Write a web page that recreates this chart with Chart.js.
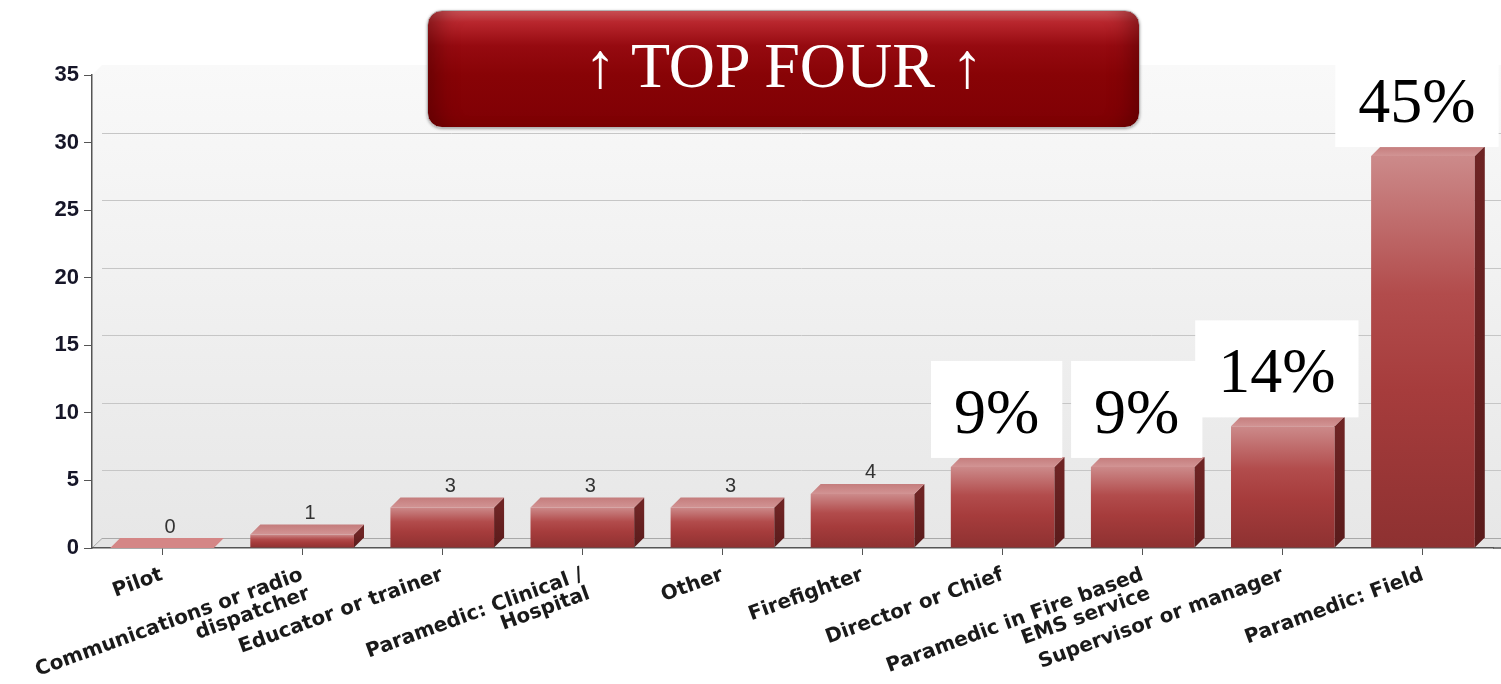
<!DOCTYPE html>
<html>
<head>
<meta charset="utf-8">
<title>Role breakdown</title>
<script src="https://cdn.jsdelivr.net/npm/chart.js@4.4.1/dist/chart.umd.min.js"></script>
<style>
    html, body { margin: 0; padding: 0; background: #fff; }
    #wrap { position: relative; width: 1501px; height: 684px; overflow: hidden; }
    #banner {
        position: absolute;
        left: 427px; top: 10px;
        width: 711px; height: 116px;
        border-radius: 15px;
        border: 1px solid #b5b5b5;
        background: linear-gradient(to bottom, #d3555a 0%, #b8262d 10%, #960a10 30%, #880306 55%, #7f0004 100%);
        box-shadow: 0 1px 3px rgba(0,0,0,0.35),
                    inset 22px 0 22px -14px rgba(60,0,0,0.45),
                    inset -22px 0 22px -14px rgba(60,0,0,0.45);
        color: #fff;
        font-family: "Liberation Serif", "Times New Roman", serif;
        font-size: 64px;
        line-height: 109px;
        text-align: center;
        white-space: pre;
    }
</style>
</head>
<body>
<div id="wrap">
    <canvas id="roleChart" width="1501" height="684"></canvas>
    <div id="banner">↑ TOP FOUR ↑</div>
</div>
<script>
// --- data ---
const categories = [
    ['Pilot'],
    ['Communications or radio', 'dispatcher'],
    ['Educator or trainer'],
    ['Paramedic: Clinical /', 'Hospital'],
    ['Other'],
    ['Firefighter'],
    ['Director or Chief'],
    ['Paramedic in Fire based', 'EMS service'],
    ['Supervisor or manager'],
    ['Paramedic: Field']
];
const responses = [0, 1, 3, 3, 3, 4, 6, 6, 9, 29];
const yTicks = [0, 5, 10, 15, 20, 25, 30, 35];
const topCount = 4;

const DEPTH = 10;
const total = responses.reduce((a, b) => a + b, 0);

// indices of the biggest bars, they get a percentage box
const topIdx = responses
    .map((v, i) => ({ v, i }))
    .sort((a, b) => b.v - a.v)
    .slice(0, topCount)
    .map(o => o.i);

function barGradient(context) {
    const chart = context.chart;
    const y = chart.scales.y;
    if (!chart.chartArea || !y || context.type !== 'data') return '#a83c3c';
    const top = y.getPixelForValue(context.raw);
    const base = y.getPixelForValue(0);
    if (base - top < 1) return '#c98383';
    const g = chart.ctx.createLinearGradient(0, top, 0, base);
    g.addColorStop(0, '#cc8a8a');
    g.addColorStop(0.35, '#b24c4c');
    g.addColorStop(0.6, '#a63c3c');
    g.addColorStop(1, '#8e3131');
    return g;
}

// back wall, floor and shifted grid lines
const wallPlugin = {
    id: 'wall',
    beforeDraw(chart) {
        const { ctx, chartArea: a, scales: { y } } = chart;
        const right = chart.width;
        ctx.save();
        const g = ctx.createLinearGradient(0, a.top - DEPTH, 0, a.bottom - DEPTH);
        g.addColorStop(0, '#f9f9f9');
        g.addColorStop(1, '#e7e7e7');
        ctx.fillStyle = g;
        ctx.beginPath();
        ctx.moveTo(a.left, a.top);
        ctx.lineTo(a.left + DEPTH, a.top - DEPTH);
        ctx.lineTo(right, a.top - DEPTH);
        ctx.lineTo(right, a.bottom - DEPTH);
        ctx.lineTo(a.left, a.bottom);
        ctx.closePath();
        ctx.fill();

        // floor
        ctx.fillStyle = '#e4e4e4';
        ctx.beginPath();
        ctx.moveTo(a.left, a.bottom);
        ctx.lineTo(a.left + DEPTH, a.bottom - DEPTH);
        ctx.lineTo(right, a.bottom - DEPTH);
        ctx.lineTo(right, a.bottom);
        ctx.closePath();
        ctx.fill();

        ctx.lineWidth = 1;
        ctx.strokeStyle = '#c6c6c6';
        y.ticks.forEach(t => {
            if (t.value === y.min || t.value === y.max) return;
            const py = Math.round(y.getPixelForValue(t.value) - DEPTH) + 0.5;
            ctx.beginPath();
            ctx.moveTo(a.left + DEPTH, py);
            ctx.lineTo(right, py);
            ctx.stroke();
        });

        // floor edges
        ctx.strokeStyle = '#a9a9a9';
        const fy = Math.round(a.bottom - DEPTH) + 0.5;
        ctx.beginPath();
        ctx.moveTo(a.left, a.bottom);
        ctx.lineTo(a.left + DEPTH, fy);
        ctx.lineTo(right, fy);
        ctx.stroke();
        ctx.restore();
    },
    afterDraw(chart) {
        // x axis line runs on to the right edge
        const { ctx, chartArea: a } = chart;
        ctx.save();
        ctx.strokeStyle = '#555';
        ctx.lineWidth = 1.5;
        ctx.beginPath();
        ctx.moveTo(a.right, a.bottom);
        ctx.lineTo(chart.width, a.bottom);
        ctx.stroke();
        ctx.restore();
    }
};

// side + top faces, value labels and percentage boxes
const barsPlugin = {
    id: 'bars3d',
    afterDatasetsDraw(chart) {
        const ctx = chart.ctx;
        const meta = chart.getDatasetMeta(0);
        ctx.save();
        meta.data.forEach((bar, i) => {
            const { x, y, base, width } = bar.getProps(['x', 'y', 'base', 'width'], true);
            const l = x - width / 2, r = x + width / 2;

            // side face
            if (base - y > 0.5) {
                const sg = ctx.createLinearGradient(0, y, 0, base);
                sg.addColorStop(0, '#6e2424');
                sg.addColorStop(1, '#5a1b1b');
                ctx.fillStyle = sg;
                ctx.beginPath();
                ctx.moveTo(r, y);
                ctx.lineTo(r + DEPTH, y - DEPTH);
                ctx.lineTo(r + DEPTH, base - DEPTH);
                ctx.lineTo(r, base);
                ctx.closePath();
                ctx.fill();
            }

            // top face
            const tg = ctx.createLinearGradient(0, y - DEPTH, 0, y);
            tg.addColorStop(0, '#c47c7c');
            tg.addColorStop(1, '#d29494');
            ctx.fillStyle = base - y > 0.5 ? tg : '#d48686';
            ctx.beginPath();
            ctx.moveTo(l, y);
            ctx.lineTo(l + DEPTH, y - DEPTH);
            ctx.lineTo(r + DEPTH, y - DEPTH);
            ctx.lineTo(r, y);
            ctx.closePath();
            ctx.fill();

            if (!topIdx.includes(i)) {
                ctx.fillStyle = '#333';
                ctx.font = '20px "Liberation Sans", Arial, sans-serif';
                ctx.textAlign = 'center';
                ctx.textBaseline = 'middle';
                ctx.fillText(String(responses[i]), x + 8, y - DEPTH - 11);
            }
        });

        // percentage boxes on the top bars
        ctx.font = '64px "Liberation Serif", "Times New Roman", serif';
        ctx.textAlign = 'center';
        ctx.textBaseline = 'alphabetic';
        topIdx.forEach(i => {
            const bar = meta.data[i];
            const pct = Math.round(responses[i] / total * 100) + '%';
            const w = ctx.measureText(pct).width + 46;
            const h = 97;
            const bottom = bar.y - DEPTH + 1;
            const cx = bar.x - 6;
            ctx.fillStyle = '#fff';
            ctx.fillRect(cx - w / 2, bottom - h, w, h);
            ctx.fillStyle = '#000';
            ctx.fillText(pct, cx, bottom - 25);
        });
        ctx.restore();
    }
};

const chart = new Chart(document.getElementById('roleChart').getContext('2d'), {
    type: 'bar',
    data: {
        labels: categories,
        datasets: [{
            label: 'Responses',
            data: responses,
            backgroundColor: barGradient,
            borderWidth: 0,
            barPercentage: 0.74,
            categoryPercentage: 1.0
        }]
    },
    options: {
        responsive: false,
        animation: false,
        layout: { padding: { top: 75, right: 8, left: 0, bottom: 0 } },
        plugins: {
            legend: { display: false },
            tooltip: { enabled: false }
        },
        scales: {
            x: {
                offset: true,
                grid: { drawOnChartArea: false, drawTicks: true, tickLength: 7, offset: false, color: '#555' },
                border: { color: '#555', width: 1.5 },
                ticks: {
                    autoSkip: false,
                    minRotation: 20,
                    maxRotation: 20,
                    padding: 10,
                    color: '#1a1a1a',
                    font: { family: '"DejaVu Sans", Verdana, sans-serif', weight: 'bold', size: 20, lineHeight: 1.0 }
                },
                afterFit(scale) { scale.height = 136; }
            },
            y: {
                min: yTicks[0],
                max: yTicks[yTicks.length - 1],
                grid: { drawOnChartArea: false, drawTicks: true, tickLength: 8, color: '#555' },
                border: { color: '#555', width: 1.5 },
                ticks: {
                    stepSize: yTicks[1] - yTicks[0],
                    padding: 5,
                    color: '#161628',
                    font: { family: '"Liberation Sans", Arial, sans-serif', weight: 'bold', size: 22 }
                },
                afterFit(scale) { scale.width = 92; }
            }
        }
    },
    plugins: [wallPlugin, barsPlugin]
});
</script>
</body>
</html>
